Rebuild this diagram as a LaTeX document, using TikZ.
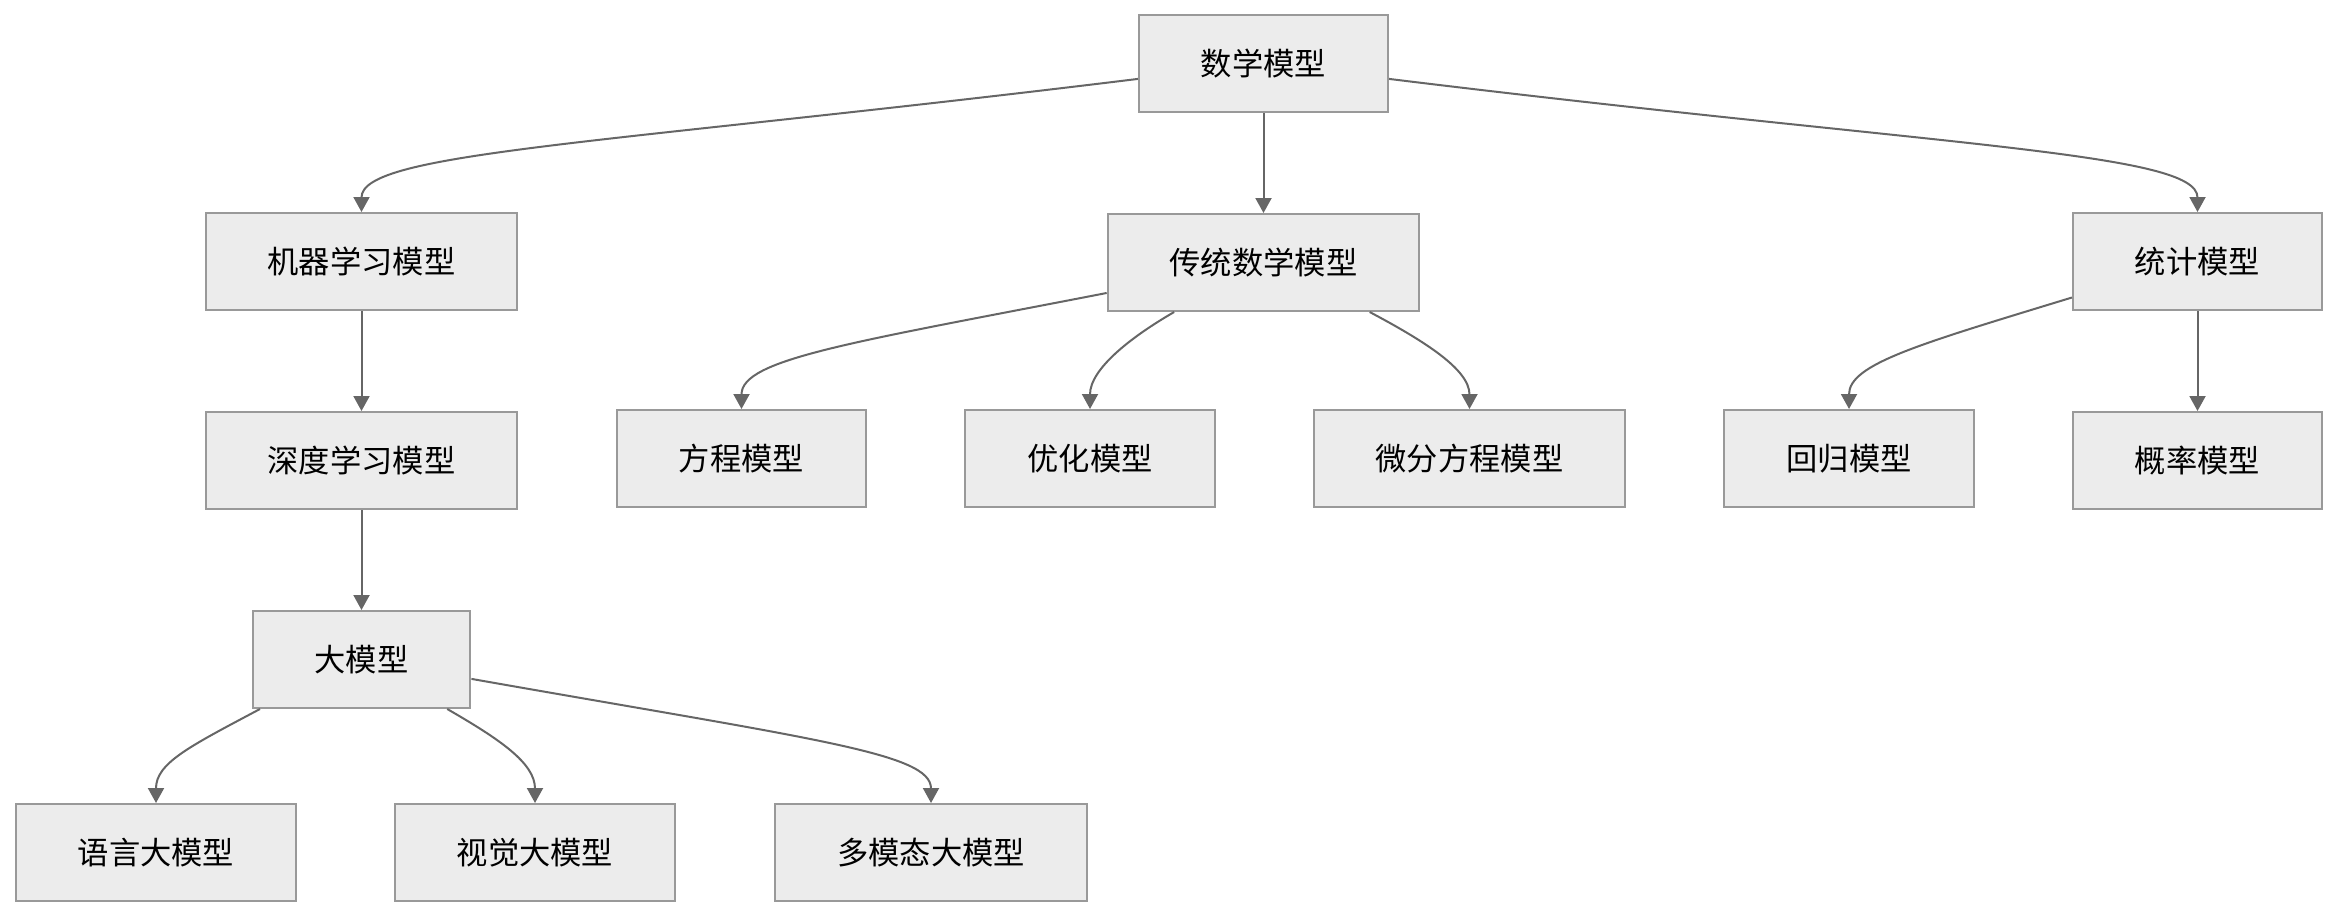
\documentclass[tikz,border=0pt]{standalone}
\usepackage{fontspec}
\newfontfamily\cjk{Noto Sans CJK SC}
\usepackage{tikz}
\usetikzlibrary{arrows.meta,positioning}
\definecolor{boxfill}{HTML}{ECECEC}
\definecolor{boxline}{HTML}{999999}
\definecolor{edgecol}{HTML}{666666}

\begin{document}
\begin{tikzpicture}[
    node distance=1.0cm,
    every node/.style={font=\cjk\fontsize{8.9}{10}\selectfont},
    model/.style={rectangle, draw=boxline, line width=0.02cm, fill=boxfill, minimum height=0.97cm, inner xsep=0.62cm, align=center},
    arrow/.style={-{Triangle[length=0.15cm,width=0.16cm]}, draw=edgecol, line width=0.02cm}
]
    \useasboundingbox (0,0) rectangle (23.38,-9.18);

    \node[model] (math) at (12.635,-0.635) {数学模型};
    \node[model] (ml) at (3.615,-2.615) {机器学习模型};
    \node[model, below=of math] (trad) {传统数学模型};
    \node[model] (stat) at (21.975,-2.615) {统计模型};

    \node[model, below=of ml] (deep) {深度学习模型};
    \node[model] (eq) at (7.415,-4.585) {方程模型};
    \node[model] (opt) at (10.90,-4.585) {优化模型};
    \node[model] (diff) at (14.695,-4.585) {微分方程模型};
    \node[model] (reg) at (18.49,-4.585) {回归模型};
    \node[model, below=of stat] (prob) {概率模型};

    \node[model, below=of deep] (large) {大模型};
    \node[model] (lang) at (1.56,-8.525) {语言大模型};
    \node[model] (vis) at (5.35,-8.525) {视觉大模型};
    \node[model] (multi) at (9.31,-8.525) {多模态大模型};

    \draw[arrow] (math.187) to[out=187, in=90, out distance=5.4cm, in distance=0.6cm] (ml.north);
    \draw[arrow] (math) -- (trad);
    \draw[arrow] (math.-7) to[out=-7, in=90, out distance=5.6cm, in distance=0.6cm] (stat.north);
    \draw[arrow] (ml) -- (deep);
    \draw[arrow] (deep) -- (large);
    \draw[arrow] (trad.191) to[out=191, in=90, out distance=2.6cm, in distance=0.5cm] (eq.north);
    \draw[arrow] (trad.209) to[out=210, in=90, out distance=0.5cm, in distance=0.4cm] (opt.north);
    \draw[arrow] (trad.-25) to[out=-28, in=90, out distance=0.6cm, in distance=0.4cm] (diff.north);
    \draw[arrow] (stat.196) to[out=197, in=90, out distance=1.6cm, in distance=0.45cm] (reg.north);
    \draw[arrow] (stat) -- (prob);
    \draw[arrow] (large.206) to[out=208, in=90, out distance=0.8cm, in distance=0.4cm] (lang.north);
    \draw[arrow] (large.-30) to[out=-30, in=90, out distance=0.6cm, in distance=0.4cm] (vis.north);
    \draw[arrow] (large.-10) to[out=-10, in=90, out distance=3.5cm, in distance=0.5cm] (multi.north);
\end{tikzpicture}
\end{document}
